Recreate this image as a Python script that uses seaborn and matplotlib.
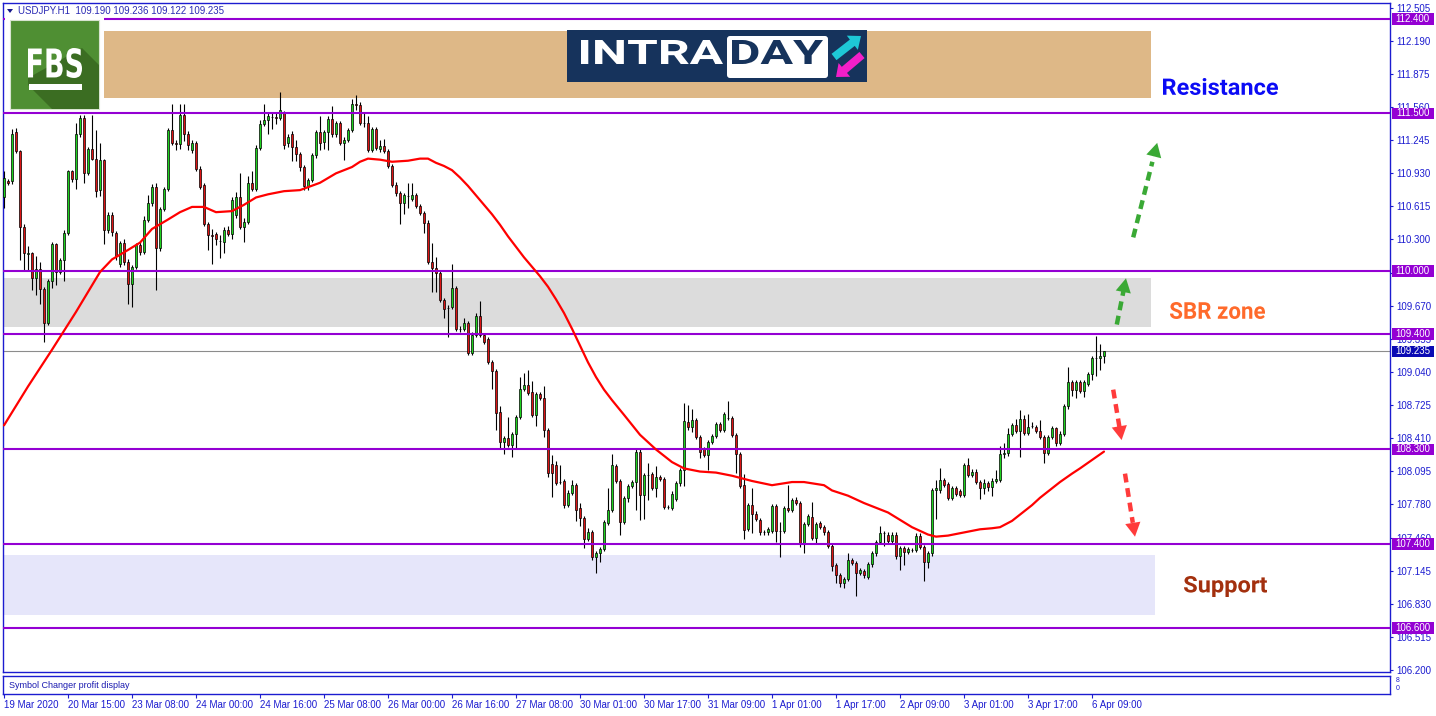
import numpy as np
import pandas as pd
import seaborn as sns
import matplotlib.pyplot as plt
import matplotlib.transforms as mtransforms
from matplotlib.patches import Rectangle, Polygon, FancyArrow, FancyBboxPatch, PathPatch
from matplotlib.textpath import TextPath
from matplotlib.font_manager import FontProperties
from matplotlib.transforms import Affine2D

sns.set_style("white")
plt.rcParams['font.family'] = ['Liberation Sans', 'DejaVu Sans']

# ---- data: USDJPY H1 candles (bar index 0 = 19 Mar 2020) ----
open_ = [
    110.70, 110.86, 110.86, 111.32, 111.14, 110.42, 110.16, 110.17, 109.93, 110.02,
    109.83, 109.50, 109.90, 110.26, 109.99, 110.10, 110.36, 110.95, 110.88, 111.30,
    111.46, 110.93, 111.16, 111.07, 110.77, 111.06, 110.39, 110.53, 110.36, 110.07,
    110.27, 110.09, 109.88, 110.04, 110.25, 110.18, 110.49, 110.65, 110.80, 110.22,
    110.59, 110.78, 111.34, 111.22, 111.21, 111.49, 111.30, 111.15, 111.22, 110.97,
    110.82, 110.45, 110.34, 110.35, 110.29, 110.28, 110.39, 110.35, 110.53, 110.70,
    110.42, 110.47, 110.84, 110.78, 111.17, 111.40, 111.44, 111.47, 111.47, 111.46,
    111.50, 111.22, 111.30, 111.18, 111.11, 110.99, 110.81, 110.87, 111.10, 111.32,
    111.23, 111.32, 111.45, 111.30, 111.41, 111.22, 111.25, 111.34, 111.59, 111.58,
    111.41, 111.41, 111.15, 111.35, 111.16, 111.19, 111.14, 111.00, 110.82, 110.74,
    110.65, 110.71, 110.69, 110.72, 110.62, 110.55, 110.46, 110.09, 110.03, 109.98,
    109.72, 109.65, 109.66, 109.84, 109.45, 109.45, 109.50, 109.22, 109.39, 109.57,
    109.39, 109.35, 109.13, 109.05, 108.66, 108.37, 108.41, 108.34, 108.45, 108.61,
    108.88, 108.91, 108.85, 108.63, 108.83, 108.79, 108.49, 108.16, 108.15, 107.99,
    108.00, 107.77, 107.89, 107.96, 107.74, 107.65, 107.45, 107.51, 107.28, 107.31,
    107.35, 107.60, 107.72, 108.14, 108.00, 107.61, 107.84, 107.95, 107.99, 108.28,
    107.87, 108.06, 108.07, 107.93, 108.04, 108.02, 107.75, 107.74, 107.83, 107.98,
    108.10, 108.56, 108.51, 108.58, 108.42, 108.30, 108.25, 108.37, 108.43, 108.54,
    108.49, 108.60, 108.60, 108.44, 108.26, 107.96, 107.54, 107.77, 107.69, 107.63,
    107.51, 107.51, 107.52, 107.76, 107.52, 107.52, 107.74, 107.72, 107.82, 107.79,
    107.40, 107.59, 107.66, 107.46, 107.60, 107.56, 107.51, 107.38, 107.20, 107.10,
    107.03, 107.07, 107.25, 107.22, 107.12, 107.14, 107.09, 107.21, 107.31, 107.42,
    107.50, 107.49, 107.43, 107.49, 107.29, 107.36, 107.32, 107.34, 107.34, 107.48,
    107.37, 107.23, 107.31, 107.91, 107.91, 108.01, 107.97, 107.84, 107.93, 107.90,
    107.87, 108.15, 108.06, 108.09, 107.99, 107.93, 107.98, 107.94, 108.00, 108.01,
    108.26, 108.27, 108.45, 108.53, 108.48, 108.59, 108.46, 108.52, 108.51, 108.48,
    108.42, 108.27, 108.42, 108.50, 108.36, 108.45, 108.71, 108.94, 108.87, 108.94,
    108.86, 108.92, 109.02, 109.17, 109.17, 109.19,
]
high = [
    110.95, 110.88, 111.35, 111.36, 111.15, 110.45, 110.24, 110.18, 110.14, 110.09,
    109.85, 109.92, 110.28, 110.27, 110.12, 110.39, 110.96, 110.96, 111.41, 111.49,
    111.49, 111.18, 111.49, 111.34, 111.22, 111.07, 110.56, 110.56, 110.38, 110.29,
    110.30, 110.11, 110.06, 110.27, 110.28, 110.52, 110.72, 110.83, 110.84, 110.61,
    110.80, 111.36, 111.59, 111.25, 111.59, 111.59, 111.33, 111.25, 111.24, 111.00,
    110.84, 110.47, 110.40, 110.37, 110.34, 110.42, 110.43, 110.70, 110.75, 110.93,
    110.50, 110.90, 110.95, 111.20, 111.44, 111.59, 111.50, 111.50, 111.50, 111.70,
    111.52, 111.30, 111.33, 111.25, 111.13, 111.01, 110.89, 111.12, 111.34, 111.48,
    111.34, 111.48, 111.57, 111.43, 111.43, 111.28, 111.36, 111.64, 111.68, 111.61,
    111.50, 111.48, 111.37, 111.37, 111.25, 111.26, 111.16, 111.02, 110.85, 110.76,
    110.74, 110.84, 110.84, 110.74, 110.64, 110.57, 110.49, 110.27, 110.13, 110.00,
    109.74, 109.68, 110.07, 109.86, 109.48, 109.55, 109.52, 109.42, 109.60, 109.71,
    109.41, 109.37, 109.15, 109.07, 108.71, 108.43, 108.61, 108.47, 108.63, 108.99,
    109.03, 109.06, 108.95, 108.85, 108.85, 108.90, 108.50, 108.25, 108.19, 108.15,
    108.02, 107.91, 108.01, 107.98, 107.79, 107.67, 107.55, 107.53, 107.33, 107.37,
    107.63, 107.93, 108.26, 108.16, 108.02, 107.86, 107.97, 108.01, 108.30, 108.30,
    108.08, 108.17, 108.09, 108.14, 108.06, 108.04, 107.77, 107.90, 108.00, 108.12,
    108.74, 108.72, 108.69, 108.60, 108.44, 108.32, 108.39, 108.45, 108.56, 108.56,
    108.66, 108.76, 108.62, 108.46, 108.28, 108.07, 107.79, 107.93, 107.71, 107.65,
    107.53, 107.56, 107.78, 107.78, 107.61, 107.76, 107.96, 107.84, 107.85, 107.81,
    107.61, 107.69, 107.80, 107.61, 107.62, 107.58, 107.53, 107.40, 107.22, 107.12,
    107.09, 107.31, 107.27, 107.24, 107.17, 107.16, 107.23, 107.33, 107.44, 107.57,
    107.52, 107.51, 107.51, 107.51, 107.38, 107.38, 107.37, 107.36, 107.50, 107.50,
    107.39, 107.33, 107.93, 108.01, 108.12, 108.03, 107.99, 107.95, 107.95, 107.92,
    108.17, 108.22, 108.11, 108.11, 108.01, 108.02, 108.00, 108.03, 108.10, 108.33,
    108.36, 108.50, 108.55, 108.59, 108.68, 108.63, 108.64, 108.56, 108.53, 108.58,
    108.44, 108.44, 108.52, 108.51, 108.48, 108.73, 109.09, 108.96, 108.96, 108.96,
    108.96, 109.04, 109.19, 109.38, 109.30, 109.236,
]
low = [
    110.60, 110.82, 110.83, 111.12, 110.10, 110.01, 110.01, 109.82, 109.77, 109.69,
    109.32, 109.49, 109.84, 109.87, 109.97, 109.90, 110.34, 110.85, 110.78, 111.28,
    110.84, 110.91, 111.06, 110.70, 110.71, 110.26, 110.36, 110.33, 110.10, 110.04,
    110.06, 109.69, 109.66, 110.02, 110.15, 110.16, 110.47, 110.62, 109.82, 110.19,
    110.57, 110.76, 111.20, 111.15, 111.16, 111.24, 111.15, 111.12, 110.95, 110.78,
    110.43, 110.20, 110.07, 110.25, 110.12, 110.17, 110.33, 110.30, 110.50, 110.40,
    110.28, 110.45, 110.76, 110.76, 111.15, 111.38, 111.30, 111.35, 111.40, 111.44,
    111.16, 111.18, 111.05, 111.05, 110.95, 110.77, 110.77, 110.85, 111.08, 111.15,
    111.16, 111.15, 111.28, 111.28, 111.20, 111.06, 111.23, 111.32, 111.53, 111.39,
    111.37, 111.13, 111.13, 111.15, 111.13, 111.12, 110.98, 110.80, 110.71, 110.45,
    110.54, 110.60, 110.67, 110.60, 110.53, 110.36, 110.07, 109.80, 109.80, 109.70,
    109.55, 109.37, 109.64, 109.43, 109.42, 109.43, 109.20, 109.20, 109.37, 109.37,
    109.30, 109.11, 108.88, 108.49, 108.31, 108.26, 108.32, 108.23, 108.31, 108.59,
    108.86, 108.82, 108.61, 108.52, 108.77, 108.42, 108.04, 107.85, 107.96, 107.97,
    107.74, 107.75, 107.87, 107.62, 107.57, 107.36, 107.43, 107.25, 107.12, 107.23,
    107.33, 107.58, 107.70, 107.98, 107.49, 107.59, 107.80, 107.93, 107.72, 107.63,
    107.64, 107.82, 107.91, 107.85, 108.00, 107.73, 107.73, 107.72, 107.81, 107.95,
    107.95, 108.49, 108.47, 108.40, 108.22, 108.23, 108.10, 108.35, 108.41, 108.47,
    108.47, 108.58, 108.42, 108.08, 107.93, 107.45, 107.52, 107.50, 107.62, 107.49,
    107.49, 107.49, 107.50, 107.42, 107.28, 107.50, 107.70, 107.70, 107.77, 107.37,
    107.31, 107.57, 107.44, 107.41, 107.54, 107.49, 107.36, 107.14, 107.03, 106.99,
    106.98, 107.05, 107.20, 106.90, 107.10, 107.08, 107.07, 107.18, 107.29, 107.40,
    107.38, 107.41, 107.41, 107.26, 107.15, 107.20, 107.30, 107.32, 107.32, 107.35,
    107.05, 107.17, 107.29, 107.64, 107.89, 107.94, 107.82, 107.82, 107.86, 107.85,
    107.85, 108.04, 108.04, 107.97, 107.83, 107.88, 107.90, 107.86, 107.98, 107.99,
    108.22, 108.24, 108.43, 108.46, 108.23, 108.44, 108.44, 108.50, 108.46, 108.40,
    108.17, 108.25, 108.40, 108.33, 108.34, 108.43, 108.69, 108.81, 108.79, 108.84,
    108.80, 108.90, 108.96, 109.00, 109.06, 109.122,
]
close = [
    110.89, 110.84, 111.30, 111.14, 110.42, 110.17, 110.17, 109.93, 110.02, 109.83,
    109.50, 109.90, 110.26, 109.99, 110.10, 110.36, 110.95, 110.88, 111.30, 111.46,
    110.93, 111.16, 111.07, 110.76, 111.06, 110.39, 110.53, 110.37, 110.14, 110.27,
    110.09, 109.88, 110.04, 110.25, 110.18, 110.49, 110.65, 110.80, 110.22, 110.59,
    110.78, 111.34, 111.22, 111.21, 111.49, 111.30, 111.20, 111.22, 110.97, 110.80,
    110.45, 110.34, 110.33, 110.30, 110.29, 110.39, 110.35, 110.68, 110.70, 110.42,
    110.47, 110.84, 110.78, 111.17, 111.40, 111.44, 111.48, 111.47, 111.46, 111.53,
    111.20, 111.28, 111.18, 111.11, 110.99, 110.81, 110.87, 111.10, 111.32, 111.22,
    111.32, 111.45, 111.30, 111.41, 111.22, 111.25, 111.34, 111.59, 111.58, 111.41,
    111.41, 111.15, 111.35, 111.17, 111.19, 111.14, 111.00, 110.82, 110.74, 110.65,
    110.72, 110.71, 110.72, 110.62, 110.55, 110.46, 110.09, 110.03, 109.98, 109.72,
    109.64, 109.65, 109.84, 109.45, 109.45, 109.50, 109.22, 109.39, 109.57, 109.39,
    109.32, 109.13, 109.05, 108.65, 108.37, 108.41, 108.34, 108.45, 108.61, 108.88,
    108.91, 108.84, 108.63, 108.83, 108.79, 108.49, 108.08, 108.08, 107.98, 107.99,
    107.77, 107.89, 107.96, 107.72, 107.65, 107.45, 107.51, 107.28, 107.31, 107.35,
    107.61, 107.72, 108.15, 108.00, 107.61, 107.84, 107.95, 107.99, 108.28, 107.87,
    108.06, 108.06, 107.93, 108.04, 108.02, 107.75, 107.75, 107.88, 107.98, 108.10,
    108.57, 108.51, 108.58, 108.42, 108.28, 108.25, 108.37, 108.43, 108.54, 108.49,
    108.64, 108.60, 108.44, 108.26, 107.95, 107.53, 107.77, 107.69, 107.64, 107.51,
    107.51, 107.54, 107.76, 107.52, 107.52, 107.74, 107.72, 107.82, 107.79, 107.40,
    107.59, 107.67, 107.46, 107.59, 107.56, 107.51, 107.38, 107.19, 107.10, 107.03,
    107.07, 107.25, 107.22, 107.12, 107.15, 107.10, 107.21, 107.31, 107.42, 107.50,
    107.50, 107.43, 107.49, 107.29, 107.36, 107.32, 107.35, 107.34, 107.48, 107.37,
    107.23, 107.31, 107.91, 107.93, 108.01, 107.96, 107.84, 107.93, 107.88, 107.87,
    108.15, 108.06, 108.09, 107.99, 107.93, 107.98, 107.94, 108.00, 108.02, 108.26,
    108.27, 108.45, 108.53, 108.48, 108.59, 108.46, 108.51, 108.52, 108.48, 108.42,
    108.27, 108.42, 108.50, 108.36, 108.45, 108.71, 108.94, 108.87, 108.94, 108.86,
    108.94, 109.02, 109.17, 109.17, 109.19, 109.235,
]

# moving average (bar index, price)
ma_bar = [0, 6, 12, 18, 24, 27, 31, 34, 37, 41, 44, 47, 50, 53, 57, 60, 63, 66,
          70, 74, 79, 83, 85, 87, 89, 91, 94, 97, 101, 104, 106, 108, 110, 112, 114,
          116, 118, 120, 122, 124, 126, 128, 130, 132, 134, 136, 138, 140, 142, 144,
          146, 148, 150, 152, 155, 159, 163, 167, 170, 174, 178, 182, 187, 192,
          197, 200, 205, 207, 211, 215, 217, 221, 224, 227, 231, 233, 236, 240,
          244, 247, 249, 252, 254, 257, 259, 262, 264, 267, 269, 272, 275]
ma_val = [108.53, 108.90, 109.25, 109.61, 109.99, 110.11, 110.20, 110.27, 110.40, 110.49,
          110.56, 110.61, 110.61, 110.56, 110.57, 110.63, 110.70, 110.73,
          110.76, 110.77, 110.84, 110.93, 110.96, 110.99, 111.04, 111.07, 111.06, 111.04,
          111.05, 111.07, 111.07, 111.03, 111.00, 110.96, 110.89,
          110.81, 110.72, 110.63, 110.54, 110.44, 110.33, 110.23, 110.13, 110.04, 109.95,
          109.85, 109.73, 109.60, 109.45, 109.29, 109.13, 108.99, 108.87, 108.77, 108.63,
          108.44, 108.30, 108.18, 108.12, 108.09, 108.08, 108.05, 108.00, 107.96,
          107.99, 107.99, 107.96, 107.91, 107.86, 107.79, 107.76, 107.70, 107.63, 107.56,
          107.49, 107.47, 107.48, 107.51, 107.54, 107.55, 107.56, 107.62, 107.68, 107.77,
          107.84, 107.93, 107.99, 108.07, 108.12, 108.20, 108.28]

levels = [112.4, 111.5, 110.0, 109.4, 108.3, 107.4, 106.6]
last_price = 109.235
y_ticks = [106.200, 106.515, 106.830, 107.145, 107.460, 107.780, 108.095, 108.410,
           108.725, 109.040, 109.355, 109.670, 109.985, 110.300, 110.615, 110.930,
           111.245, 111.560, 111.875, 112.190, 112.505]
x_labels = ["19 Mar 2020", "20 Mar 15:00", "23 Mar 08:00", "24 Mar 00:00", "24 Mar 16:00",
            "25 Mar 08:00", "26 Mar 00:00", "26 Mar 16:00", "27 Mar 08:00", "30 Mar 01:00",
            "30 Mar 17:00", "31 Mar 09:00", "1 Apr 01:00", "1 Apr 17:00", "2 Apr 09:00",
            "3 Apr 01:00", "3 Apr 17:00", "6 Apr 09:00"]
bars_per_label = 16

# zones (bar from, bar to, price low, price high)
resist_zone = (25, 286.7, 111.648, 112.286)
sbr_zone = (-0.25, 286.7, 109.467, 109.933)
support_zone = (-0.25, 287.75, 106.724, 107.295)

# dashed arrows: (tail bar, tail price, tip bar, tip price)
green_arrows = [(282.3, 110.32, 288.3, 111.22), (278.2, 109.49, 280.5, 109.93)]
red_arrows = [(277.3, 108.87, 279.4, 108.39), (280.25, 108.07, 282.75, 107.47)]

df = pd.DataFrame({"bar": np.arange(len(close)), "open": open_, "high": high,
                   "low": low, "close": close})

W, H = 1436, 716
BLUE = "#1c1cd0"
PURPLE = "#9400d3"
fig = plt.figure(figsize=(W / 100, H / 100), dpi=100)


def px_axes(l, t, r, b):
    return fig.add_axes([l / W, 1 - b / H, (r - l) / W, (b - t) / H])


ax = px_axes(3, 3, 1390, 672)
sub = px_axes(3, 676, 1390, 694)

xlim = (-0.25, -0.25 + 1387 / 4)
ax.set_xlim(*xlim)
ax.set_ylim(106.181, 112.552)

# zones
for (x0, x1, p0, p1), col in [(resist_zone, "#deb887"), (sbr_zone, "#dcdcdc"),
                              (support_zone, "#e6e6fa")]:
    ax.add_patch(Rectangle((x0, p0), x1 - x0, p1 - p0, fc=col, ec="none", zorder=1))

ax.axhline(last_price, color="#8c8c8c", lw=0.8, zorder=2)

# candles
up = df["close"] >= df["open"]
ax.vlines(df["bar"], df["low"], df["high"], color="black", lw=0.8, zorder=3)
for mask, col in [(up, "#1ed21e"), (~up, "#dc1414")]:
    d = df[mask]
    ax.bar(d["bar"], d["close"] - d["open"], bottom=d["open"], width=0.55,
           color=col, edgecolor="black", linewidth=0.5, zorder=4)

for p in levels:
    ax.axhline(p, color=PURPLE, lw=1.5, zorder=5)

sns.lineplot(x=ma_bar, y=ma_val, ax=ax, color="#ff0000", linewidth=1.6, zorder=6)

# dashed arrows
for arrows, col, frac in [(green_arrows, "#3aa935", 0.8), (red_arrows, "#ff3b3b", 0.78)]:
    for tx, tp, hx, hp in arrows:
        ex, ep = tx + (hx - tx) * frac, tp + (hp - tp) * frac
        ax.plot([tx, ex], [tp, ep], color=col, lw=3.2, ls=(0, (2.0, 1.3)),
                solid_capstyle="butt", zorder=7)
        ax.annotate("", xy=(hx, hp), xytext=(ex, ep),
                    arrowprops=dict(arrowstyle="-|>,head_length=1.0,head_width=0.55",
                                    mutation_scale=10, lw=0.01, color=col,
                                    shrinkA=0, shrinkB=0), zorder=7)

# axes styling
for a in (ax, sub):
    for s in a.spines.values():
        s.set_visible(True)
        s.set_color(BLUE)
        s.set_linewidth(1.0)
    a.set_xlabel("")
    a.set_ylabel("")

ax.set_xticks([])
ax.yaxis.tick_right()
ax.set_yticks(y_ticks)
ax.set_yticklabels([f"{t:.3f}" for t in y_ticks])
ax.tick_params(axis="y", right=True, left=False, labelright=True, labelleft=False,
               direction="out", length=2.5, width=0.8, color=BLUE, labelcolor=BLUE,
               labelsize=7, pad=2)

trans = mtransforms.blended_transform_factory(ax.transAxes, ax.transData)
bw = 42 / 1387
for p, col in [(p, PURPLE) for p in levels] + [(last_price, "#0a0ab4")]:
    ax.add_patch(Rectangle((1.0012, p - 0.053), bw, 0.106, transform=trans,
                           fc=col, ec="none", clip_on=False, zorder=20))
    ax.text(1.0012 + bw / 2, p, f"{p:.3f}", transform=trans, ha="center", va="center",
            color="white", fontsize=7, zorder=21, clip_on=False)

sub.set_xlim(*xlim)
sub.set_yticks([])
ticks = [i * bars_per_label for i in range(len(x_labels))]
sub.set_xticks(ticks)
sub.set_xticklabels(x_labels)
sub.tick_params(axis="x", bottom=True, direction="out", length=3, width=0.8, color=BLUE,
                labelcolor=BLUE, labelsize=7, pad=1.5)
for lab in sub.get_xticklabels():
    lab.set_horizontalalignment("left")
sub.text(0.004, 0.5, "Symbol Changer profit display", transform=sub.transAxes,
         va="center", ha="left", fontsize=6.5, color="#1a1ab0")
fig.text(1396 / W, 1 - 681 / H, "8", fontsize=5, color=BLUE, va="center")
fig.text(1396 / W, 1 - 689 / H, "0", fontsize=5, color=BLUE, va="center")

# header
fig.text(18 / W, 1 - 10.5 / H, "USDJPY.H1  109.190 109.236 109.122 109.235",
         fontsize=7, color="#2a2ab4", va="center")

# ---- overlay in pixel coordinates for logos and labels ----
ov = fig.add_axes([0, 0, 1, 1])
ov.set_xlim(0, W)
ov.set_ylim(H, 0)
ov.axis("off")
ov.patch.set_alpha(0)


def fit_text(s, x0, y0, x1, y1, color, family="Roboto", weight="bold", z=12):
    tp = TextPath((0, 0), s, size=40, prop=FontProperties(family=family, weight=weight))
    e = tp.get_extents()
    tr = (Affine2D().translate(-e.x0, -e.y0)
          .scale((x1 - x0) / e.width, -(y1 - y0) / e.height).translate(x0, y1))
    ov.add_patch(PathPatch(tr.transform_path(tp), fc=color, ec="none", zorder=z))


ov.add_patch(Polygon([(7, 9), (13, 9), (10, 13)], closed=True, fc="#16168c", ec="none"))

# FBS logo
ov.add_patch(Rectangle((5, 16), 99, 95, fc="white", ec="none", zorder=10))
ov.add_patch(Rectangle((10, 20), 89, 89, fc="#4f8f33", ec="#d8e4d0", lw=0.8, zorder=11))
ov.add_patch(Polygon([(82, 48), (99, 65), (99, 109), (52, 109), (28, 85), (28, 78)],
                     closed=True, fc="#3b6d22", ec="none", zorder=11))
fit_text("FBS", 28, 48, 82, 78, "white", family="DejaVu Sans")
ov.add_patch(Rectangle((29, 84), 53, 6, fc="white", ec="none", zorder=12))

# INTRADAY logo
ov.add_patch(Rectangle((567, 30), 300, 52, fc="#16335c", ec="none", zorder=10))
ov.add_patch(FancyBboxPatch((729, 38), 97, 38, boxstyle="round,pad=2,rounding_size=3",
                            fc="white", ec="none", zorder=11))
fit_text("INTRA", 581, 40, 723, 64, "white")
fit_text("DAY", 732, 40, 823, 64, "#16335c")
ov.add_patch(FancyArrow(834, 57, 27, -21, width=8, head_width=18, head_length=11,
                        length_includes_head=True, fc="#1ec8d6", ec="none", zorder=12))
ov.add_patch(FancyArrow(862, 55, -26, 22, width=8, head_width=18, head_length=11,
                        length_includes_head=True, fc="#f21fc9", ec="none", zorder=12))

# zone labels
fit_text("Resistance", 1163, 78, 1278, 95, "#0b0bf5")
fit_text("SBR zone", 1170, 302, 1265, 319, "#ff6a2b")
fit_text("Support", 1184, 576, 1267, 597, "#a3300e")

fig.savefig("out.png", dpi=100)
